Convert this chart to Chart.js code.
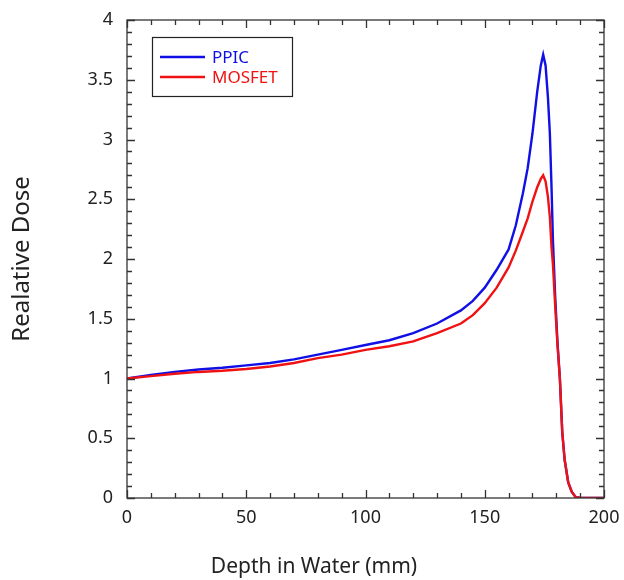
<!DOCTYPE html>
<html>
<head>
<meta charset="utf-8">
<script src="https://cdn.jsdelivr.net/npm/chart.js@4.4.1/dist/chart.umd.min.js"></script>
<style>
  html, body { margin: 0; padding: 0; background: #fff; }
  #wrap { width: 624px; height: 580px; position: relative; }
</style>
</head>
<body>
<div id="wrap"><canvas id="doseChart" width="624" height="580"></canvas></div>
<script>
// --- data (depth in mm, relative dose) ---
const depth  = [0, 10, 20, 30, 40, 50, 60, 70, 80, 90, 100, 110, 120, 130, 140, 145, 150, 155, 160, 163, 166, 168, 170, 172, 173.5, 174.5, 175.5, 176.5, 177.3, 178, 178.6, 179.5, 180.5, 181.5, 182.5, 183.5, 185, 186.5, 188, 190, 200];
const ppic   = [1.00, 1.03, 1.055, 1.075, 1.09, 1.11, 1.13, 1.16, 1.20, 1.24, 1.28, 1.32, 1.38, 1.46, 1.57, 1.65, 1.76, 1.91, 2.08, 2.28, 2.55, 2.76, 3.05, 3.40, 3.62, 3.71, 3.62, 3.35, 3.05, 2.60, 2.15, 1.70, 1.30, 1.00, 0.55, 0.32, 0.13, 0.05, 0.01, 0, 0];
const mosfet = [1.00, 1.02, 1.04, 1.055, 1.065, 1.08, 1.10, 1.13, 1.17, 1.20, 1.24, 1.27, 1.31, 1.38, 1.46, 1.53, 1.63, 1.76, 1.93, 2.07, 2.23, 2.34, 2.48, 2.60, 2.67, 2.70, 2.65, 2.52, 2.35, 2.10, 1.95, 1.62, 1.28, 1.00, 0.55, 0.32, 0.13, 0.05, 0.01, 0, 0];
const seriesNames = ['PPIC', 'MOSFET'];
const seriesColors = ['#1010e6', '#f01212'];
const xTicks = [0, 50, 100, 150, 200];
const yTicks = [0, 0.5, 1, 1.5, 2, 2.5, 3, 3.5, 4];
const xTitle = 'Depth in Water (mm)';

const FONT = 'Noto Sans';
const INK = '#222';

function toPoints(ys) { return depth.map((d, i) => ({ x: d, y: ys[i] })); }

// frame + inward ticks on all four sides, the boxed legend and the x title
const framePlugin = {
  id: 'frame',
  afterDraw(chart) {
    const { ctx, chartArea: a, scales: { x, y } } = chart;
    ctx.save();
    ctx.strokeStyle = '#333';
    ctx.lineWidth = 1.3;
    ctx.strokeRect(a.left, a.top, a.right - a.left, a.bottom - a.top);
    ctx.beginPath();
    for (let v = 0; v <= 200; v += 10) {
      const px = Math.round(x.getPixelForValue(v)) + 0.5;
      const len = v % 50 === 0 ? 8 : 5;
      ctx.moveTo(px, a.bottom); ctx.lineTo(px, a.bottom - len);
      ctx.moveTo(px, a.top); ctx.lineTo(px, a.top + len);
    }
    for (let k = 0; k <= 40; k++) {
      const py = Math.round(y.getPixelForValue(k / 10)) + 0.5;
      const len = k % 5 === 0 ? 8 : 5;
      ctx.moveTo(a.left, py); ctx.lineTo(a.left + len, py);
      ctx.moveTo(a.right, py); ctx.lineTo(a.right - len, py);
    }
    ctx.stroke();

    // legend
    const bx = a.left + 25, by = a.top + 17, bw = 140, bh = 59;
    ctx.fillStyle = '#fff';
    ctx.fillRect(bx, by, bw, bh);
    ctx.strokeStyle = '#222';
    ctx.lineWidth = 1.2;
    ctx.strokeRect(bx + 0.5, by + 0.5, bw, bh);
    ctx.font = '17px ' + FONT;
    ctx.textBaseline = 'middle';
    seriesNames.forEach((name, i) => {
      const ly = by + 20 + i * 20;
      ctx.strokeStyle = seriesColors[i];
      ctx.lineWidth = 2.5;
      ctx.beginPath();
      ctx.moveTo(bx + 8, ly); ctx.lineTo(bx + 53, ly);
      ctx.stroke();
      ctx.fillStyle = seriesColors[i];
      ctx.fillText(name, bx + 60, ly + 1);
    });

    // x title is centred on the whole figure, not on the plot area
    ctx.fillStyle = INK;
    ctx.font = '21px ' + FONT;
    ctx.textAlign = 'center';
    ctx.fillText(xTitle, chart.width / 2 + 2, a.bottom + 69);
    ctx.restore();
  }
};

new Chart(document.getElementById('doseChart'), {
  type: 'line',
  data: {
    datasets: [
      { label: seriesNames[0], data: toPoints(ppic), borderColor: seriesColors[0], order: 1 },
      { label: seriesNames[1], data: toPoints(mosfet), borderColor: seriesColors[1], order: 0 }
    ]
  },
  options: {
    responsive: false,
    animation: false,
    layout: { padding: { top: 20, right: 20, left: 0, bottom: 0 } },
    elements: {
      line: { borderWidth: 2.4, tension: 0, fill: false },
      point: { radius: 0 }
    },
    plugins: { legend: { display: false }, tooltip: { enabled: false } },
    scales: {
      x: {
        type: 'linear', min: 0, max: 200,
        afterBuildTicks: s => { s.ticks = xTicks.map(v => ({ value: v })); },
        afterFit: s => { s.height = 82; s.paddingLeft = 0; s.paddingRight = 0; },
        grid: { display: false, drawTicks: false },
        border: { display: false },
        ticks: { padding: 9, color: INK, font: { family: FONT, size: 18 }, maxRotation: 0, callback: v => String(v) },
        title: { display: false }
      },
      y: {
        type: 'linear', min: 0, max: 4,
        afterBuildTicks: s => { s.ticks = yTicks.map(v => ({ value: v })); },
        afterFit: s => { s.width = 127; s.paddingTop = 0; s.paddingBottom = 0; },
        grid: { display: false, drawTicks: false },
        border: { display: false },
        ticks: { padding: 14, color: INK, font: { family: FONT, size: 18 }, callback: v => String(v) },
        title: { display: true, text: 'Realative Dose', color: INK, font: { family: FONT, size: 24 }, padding: { top: 8, bottom: 0 } }
      }
    }
  },
  plugins: [framePlugin]
});
</script>
</body>
</html>
